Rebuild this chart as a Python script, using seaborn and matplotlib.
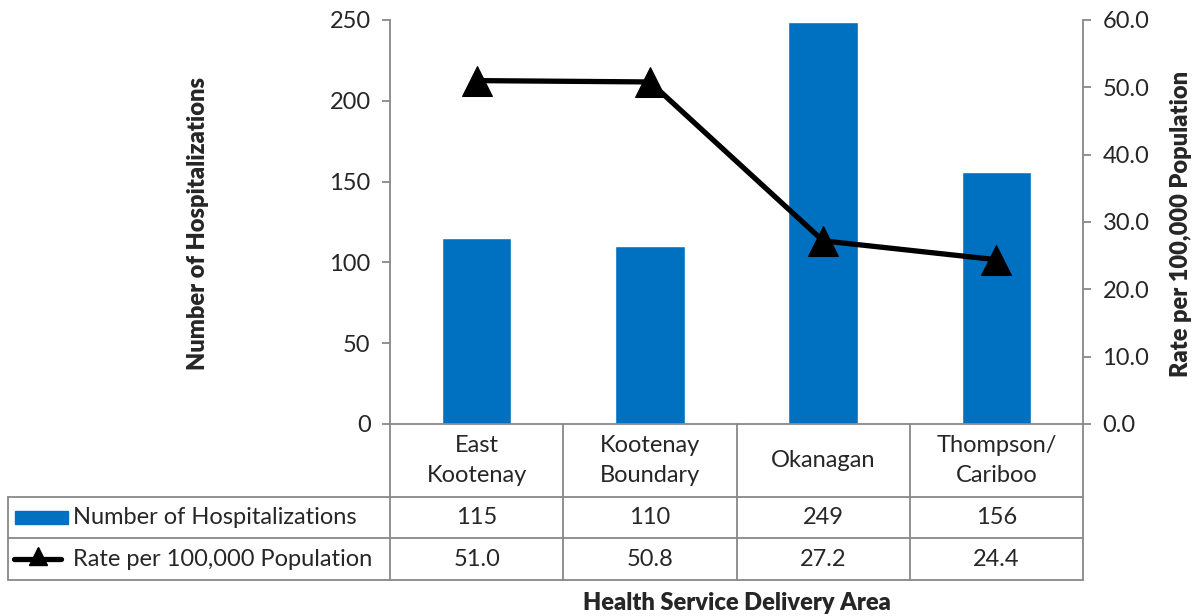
import numpy as np
import matplotlib
matplotlib.use("Agg")
import matplotlib.pyplot as plt
import seaborn as sns
from matplotlib.lines import Line2D
from matplotlib.patches import Rectangle

categories = ["East\nKootenay", "Kootenay\nBoundary", "Okanagan", "Thompson/\nCariboo"]
hospitalizations = [115, 110, 249, 156]
rates = [51.0, 50.8, 27.2, 24.4]
series_names = ["Number of Hospitalizations", "Rate per 100,000 Population"]
left_ticks = [0, 50, 100, 150, 200, 250]
right_ticks = [0, 10, 20, 30, 40, 50, 60]

sns.set_theme(style="white")
plt.rcParams["font.family"] = ["Lato", "DejaVu Sans"]

W, H = 1200, 616
fig = plt.figure(figsize=(12, 6.16), dpi=100)

def fx(x):
    return x / W

def fy(y):
    return 1 - y / H

L, R, T, B = 390, 1083, 20, 424
ax = fig.add_axes([fx(L), fy(B), fx(R) - fx(L), fy(T) - fy(B)])
BAR = "#0070C0"
GRAY = "#888888"
FS = 17

x = np.arange(len(categories))
sns.barplot(x=x, y=hospitalizations, ax=ax, color=BAR, width=0.4, saturation=1, native_scale=True)
ax.set_xlim(-0.5, len(categories) - 0.5)
ax.set_ylim(0, 250)
ax.set_yticks(left_ticks)
ax.set_yticklabels([str(t) for t in left_ticks], fontsize=FS)
ax.set_xticks([])
ax.set_xlabel("")
for s in ["top", "right"]:
    ax.spines[s].set_visible(False)
for s in ["left", "bottom"]:
    ax.spines[s].set_color(GRAY)
    ax.spines[s].set_linewidth(1.3)
ax.tick_params(axis="y", direction="out", length=6, width=1.3, color=GRAY, left=True, pad=8)

ax2 = ax.twinx()
sns.lineplot(x=x, y=rates, ax=ax2, color="black", lw=3.8, marker="^", markersize=22,
             markeredgecolor="black", markerfacecolor="black")
ax2.set_ylim(0, 60)
ax2.set_yticks(right_ticks)
ax2.set_yticklabels([f"{t:.1f}" for t in right_ticks], fontsize=FS)
for s in ["top", "left", "bottom"]:
    ax2.spines[s].set_visible(False)
ax2.spines["right"].set_color(GRAY)
ax2.spines["right"].set_linewidth(1.3)
ax2.tick_params(axis="y", direction="out", length=6, width=1.3, color=GRAY, right=True, pad=8)

fig.text(fx(198), fy(224), series_names[0], rotation=90, ha="center", va="center",
         fontsize=FS, fontweight="heavy")
fig.text(fx(1181), fy(224), series_names[1], rotation=90, ha="center", va="center",
         fontsize=FS, fontweight="heavy")

# data table
def hline(y, x0, x1):
    fig.add_artist(Line2D([fx(x0), fx(x1)], [fy(y), fy(y)], color=GRAY, lw=1.3))

def vline(xp, y0, y1):
    fig.add_artist(Line2D([fx(xp), fx(xp)], [fy(y0), fy(y1)], color=GRAY, lw=1.3))

r0, r1, r2, r3 = B, 497, 538, 580
TL = 8
hline(r1, TL, R)
hline(r2, TL, R)
hline(r3, TL, R)
vline(TL, r1, r3)
ncat = len(categories)
colw = (R - L) / ncat
for i in range(ncat + 1):
    vline(L + i * colw, r0, r3)

for i, c in enumerate(categories):
    cx = L + (i + 0.5) * colw
    fig.text(fx(cx), fy((r0 + r1) / 2), c, ha="center", va="center", fontsize=FS, linespacing=1.55)
    fig.text(fx(cx), fy((r1 + r2) / 2), f"{hospitalizations[i]}", ha="center", va="center", fontsize=FS)
    fig.text(fx(cx), fy((r2 + r3) / 2), f"{rates[i]:.1f}", ha="center", va="center", fontsize=FS)

# legend keys
fig.add_artist(Rectangle((fx(15), fy(524)), fx(68) - fx(15), fy(511) - fy(524), color=BAR))
fig.text(fx(73), fy((r1 + r2) / 2), series_names[0], ha="left", va="center", fontsize=FS)
fig.add_artist(Line2D([fx(14), fx(61)], [fy(559), fy(559)], color="black", lw=3.8,
                      solid_capstyle="round"))
fig.add_artist(Line2D([fx(37.5)], [fy(556)], color="black", marker="^", markersize=13, lw=0))
fig.text(fx(73), fy((r2 + r3) / 2), series_names[1], ha="left", va="center", fontsize=FS)

fig.text(fx((L + R) / 2), fy(603), "Health Service Delivery Area", ha="center", va="center",
         fontsize=FS, fontweight="heavy")

fig.savefig("out.png", dpi=100)
